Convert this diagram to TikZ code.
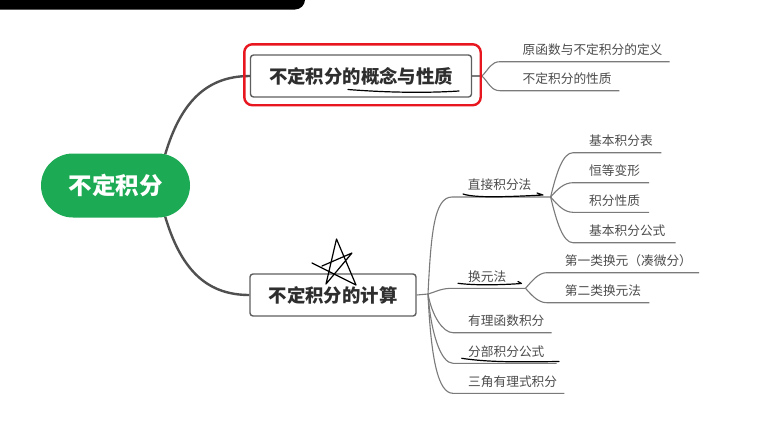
\documentclass[tikz,border=0pt]{standalone}
\usepackage{fontspec}
\setmainfont{Noto Sans CJK SC}
\usetikzlibrary{calc}
\definecolor{rootgreen}{HTML}{1DAA55}
\definecolor{topicborder}{HTML}{5E5E5E}
\definecolor{topictext}{HTML}{2E2E2E}
\definecolor{leaftext}{HTML}{4C4C4C}
\definecolor{trunkgray}{HTML}{505050}
\definecolor{twiggray}{HTML}{7A7A7A}
\definecolor{markred}{HTML}{E8161E}
\pgfdeclarelayer{bg}
\pgfsetlayers{bg,main}
\begin{document}
\begin{tikzpicture}[x=1pt,y=-1pt,
  rootnode/.style={fill=rootgreen, text=white, rounded corners=32pt, minimum width=149pt,
    minimum height=64pt, inner sep=0pt, font=\fontsize{23.5}{28}\selectfont\bfseries},
  topic/.style={draw=topicborder, line width=1.4pt, rounded corners=3pt, fill=white,
    text=topictext, inner sep=0pt, minimum height=42pt, font=\fontsize{18.4}{22}\selectfont\bfseries},
  leaf/.style={anchor=south west, text=leaftext, inner xsep=0pt, inner ysep=6pt,
    text height=10pt, text depth=1pt, font=\fontsize{12.7}{15}\selectfont},
  trunk/.style={draw=trunkgray, line width=2.4pt},
  twig/.style={draw=twiggray, line width=1.1pt},
  ink/.style={draw=black, line width=1.2pt, line cap=round, line join=round},
]
\useasboundingbox (0,0) rectangle (762,421);
\clip (0,0) rectangle (762,421);
\begin{pgfonlayer}{bg}
  \fill[white] (0,0) rectangle (762,421);
\end{pgfonlayer}

% dark banner at the top
\fill[black, rounded corners=10pt] (-20,-20) -- (305,-20) -- (305,9.5) -- (-20,9.5) -- cycle;

% central topic and main topics
\node[rootnode] (root) at (115.5,185.5) {不定积分};
\node[topic, minimum width=221pt] (n1) at (361,76) {不定积分的概念与性质};
\node[topic, minimum width=166pt] (n2) at (333,295) {不定积分的计算};

% highlight frame around the first topic
\draw[markred, line width=2.4pt, rounded corners=8pt]
  ($(n1.north west)+(-5.5,-10)$) rectangle ($(n1.south east)+(8.5,7.5)$);

% junction points
\coordinate (j1) at (482,76);
\coordinate (j2) at (428,294);

% subtopics of the first topic
\node[leaf] (d1) at (500,61.7) {\hspace*{22.5pt}原函数与不定积分的定义\hspace*{7pt}};
\node[leaf] (d2) at (500,90.7) {\hspace*{22.5pt}不定积分的性质\hspace*{7.5pt}};

% subtopics of the second topic
\node[leaf] (c1) at (452,197) {\hspace*{15.7pt}直接积分法\hspace*{19pt}};
\node[leaf] (c2) at (453,288.3) {\hspace*{15pt}换元法\hspace*{19pt}};
\node[leaf] (c3) at (453,332.7) {\hspace*{15pt}有理函数积分\hspace*{7pt}};
\node[leaf] (c4) at (453,363.3) {\hspace*{15pt}分部积分公式\hspace*{12pt}};
\node[leaf] (c5) at (453,393.3) {\hspace*{15pt}三角有理式积分\hspace*{7pt}};

% details of direct integration
\node[leaf] (e1) at (573,152.7) {\hspace*{16pt}基本积分表\hspace*{8.5pt}};
\node[leaf] (e2) at (573,182.7) {\hspace*{16pt}恒等变形\hspace*{9pt}};
\node[leaf] (e3) at (573,212.3) {\hspace*{16pt}积分性质\hspace*{9pt}};
\node[leaf] (e4) at (573,242.7) {\hspace*{16pt}基本积分公式\hspace*{10pt}};

% details of substitution
\node[leaf] (f1) at (546.7,272.7) {\hspace*{18pt}第一类换元（凑微分）\hspace*{7pt}};
\node[leaf] (f2) at (546.7,302.7) {\hspace*{18pt}第二类换元法\hspace*{8pt}};

\begin{pgfonlayer}{bg}
  % main branches
  \draw[trunk] ($(root.north east)+(-25,1)$) .. controls +(15,-50) and +(-45,0) .. (n1.west);
  \draw[trunk] ($(root.south east)+(-25,-1)$) .. controls +(15,50) and +(-45,0) .. (n2.west);

  % first topic fan
  \draw[twig] (n1.east) -- (j1);
  \draw[twig] (j1) .. controls +(7,-7) and +(-9,0) .. (d1.south west) -- (d1.south east);
  \draw[twig] (j1) .. controls +(7,7) and +(-9,0) .. (d2.south west) -- (d2.south east);

  % second topic fan
  \draw[twig] (n2.east) -- (j2);
  \draw[twig] (j2) .. controls +(3,-60) and +(-18,0) .. (c1.south west) -- (c1.south east);
  \draw[twig] (j2) .. controls +(10,-3) and +(-12,0) .. (c2.south west) -- (c2.south east);
  \draw[twig] (j2) .. controls +(4,22) and +(-10,0) .. (c3.south west) -- (c3.south east);
  \draw[twig] (j2) .. controls +(3,40) and +(-12,0) .. (c4.south west) -- (c4.south east);
  \draw[twig] (j2) .. controls +(3,65) and +(-15,0) .. (c5.south west) -- (c5.south east);

  % direct integration fan
  \draw[twig] (c1.south east) .. controls +(6,-25) and +(-10,0) .. (e1.south west) -- (e1.south east);
  \draw[twig] (c1.south east) .. controls +(7,-8) and +(-9,0) .. (e2.south west) -- (e2.south east);
  \draw[twig] (c1.south east) .. controls +(7,8) and +(-9,0) .. (e3.south west) -- (e3.south east);
  \draw[twig] (c1.south east) .. controls +(6,25) and +(-10,0) .. (e4.south west) -- (e4.south east);

  % substitution fan
  \draw[twig] (c2.south east) .. controls +(7,-8) and +(-8,0) .. (f1.south west) -- (f1.south east);
  \draw[twig] (c2.south east) .. controls +(7,8) and +(-8,0) .. (f2.south west) -- (f2.south east);
\end{pgfonlayer}

% hand-drawn underlines
\draw[ink] (348,89.5) .. controls (380,92) and (420,93.5) .. (459,91);
\draw[ink] (463,194) .. controls (475,198) and (505,197) .. (543,195) -- (537,193);
\draw[ink] (458,283.3) .. controls (475,285.5) and (500,285) .. (521.5,283.5) -- (518,281.5);
\draw[ink] (461.7,358.3) .. controls (490,362.5) and (520,362) .. (559,361.5);

% hand-drawn star
\draw[ink] (312,263) -- (356,285) -- (336.5,239) -- (326,284) -- (352,253) -- (322,266);
\end{tikzpicture}
\end{document}
